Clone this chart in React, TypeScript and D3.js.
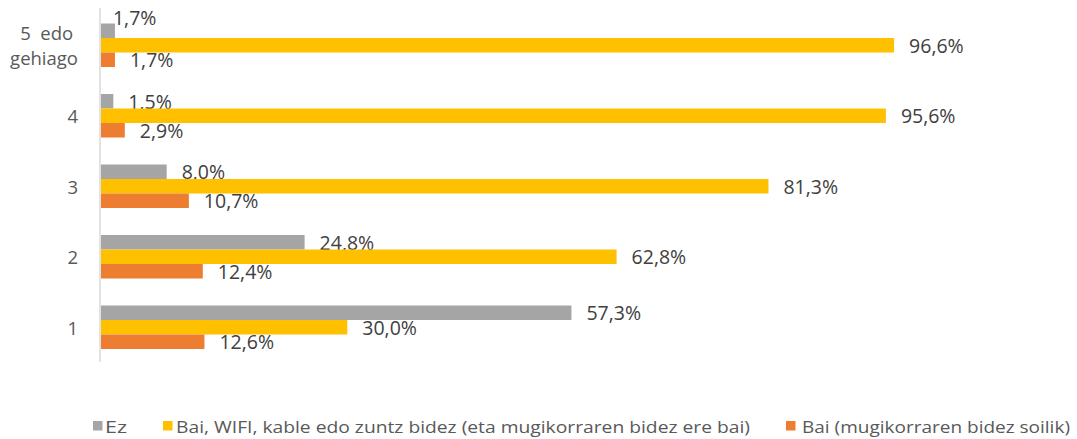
import React from "react";
import * as d3 from "d3";

const categories = ["5 edo gehiago", "4", "3", "2", "1"];
const categoryLines: Record<string, string[]> = { "5 edo gehiago": ["5  edo ", "gehiago"] };
const seriesNames = [
  "Ez",
  "Bai, WIFI, kable edo zuntz bidez (eta mugikorraren bidez ere bai)",
  "Bai (mugikorraren bidez soilik)",
];
const ezValues = [1.7, 1.5, 8.0, 24.8, 57.3];
const wifiValues = [96.6, 95.6, 81.3, 62.8, 30.0];
const mugikorValues = [1.7, 2.9, 10.7, 12.4, 12.6];
const seriesColors = ["#A5A5A5", "#FFC000", "#ED7D31"];

// label nudges (layout only) for the overlapping label
const labelNudge: Record<string, [number, number]> = { "0|0": [-17, -13] };

const W = 1077;
const H = 439;
const FONT = "'Open Sans', sans-serif";

export default function App() {
  const series = [ezValues, wifiValues, mugikorValues];
  const x = d3.scaleLinear().domain([0, 100]).range([101, 922]);
  const y0 = d3.scaleBand<string>().domain(categories).range([10, 362.5]).padding(0);
  const inner = d3
    .scaleBand<number>()
    .domain([0, 1, 2])
    .range([13.5, y0.bandwidth() - 13.5])
    .padding(0);
  const fmt = (v: number) => v.toFixed(1).replace(".", ",") + "%";

  const legendItems = [
    { sx: 93, tx: 105, tw: 22 },
    { sx: 163, tx: 176, tw: 574 },
    { sx: 786, tx: 802, tw: 268 },
  ];

  return (
    <svg
      width={W}
      height={H}
      style={{ position: "absolute", left: 0, top: 0, background: "#fff" }}
      fontFamily={FONT}
    >
      {categories.map((c, ci) => {
        const gy = y0(c)!;
        const cy = gy + y0.bandwidth() / 2;
        const lines = categoryLines[c] || [c];
        return (
          <g key={c}>
            {lines.map((ln, li) => (
              <text
                key={li}
                x={78}
                y={cy + (li - (lines.length - 1) / 2) * 25}
                textAnchor="end"
                dominantBaseline="central"
                fontSize={18.5}
                fill="#595959"
                style={{ whiteSpace: "pre" }}
              >
                {ln}
              </text>
            ))}
            {series.map((vals, si) => {
              const by = gy + inner(si)!;
              const bh = inner.bandwidth();
              const nudge = labelNudge[`${si}|${ci}`] || [0, 0];
              return (
                <g key={si}>
                  <rect x={x(0)} y={by} width={x(vals[ci]) - x(0)} height={bh} fill={seriesColors[si]} />
                  <text
                    x={x(vals[ci]) + 15 + nudge[0]}
                    y={by + bh / 2 + nudge[1]}
                    dominantBaseline="central"
                    fontSize={19.5}
                    fill="#404040"
                  >
                    {fmt(vals[ci])}
                  </text>
                </g>
              );
            })}
          </g>
        );
      })}
      <line x1={100} x2={100} y1={8} y2={362} stroke="#D9D9D9" strokeWidth={1.5} />
      {seriesNames.map((n, i) => (
        <g key={n}>
          <rect x={legendItems[i].sx} y={421} width={9.5} height={9.5} fill={seriesColors[i]} />
          <text
            x={legendItems[i].tx}
            y={426}
            dominantBaseline="central"
            fontSize={17}
            fill="#595959"
            textLength={legendItems[i].tw}
            lengthAdjust="spacingAndGlyphs"
          >
            {n}
          </text>
        </g>
      ))}
    </svg>
  );
}
